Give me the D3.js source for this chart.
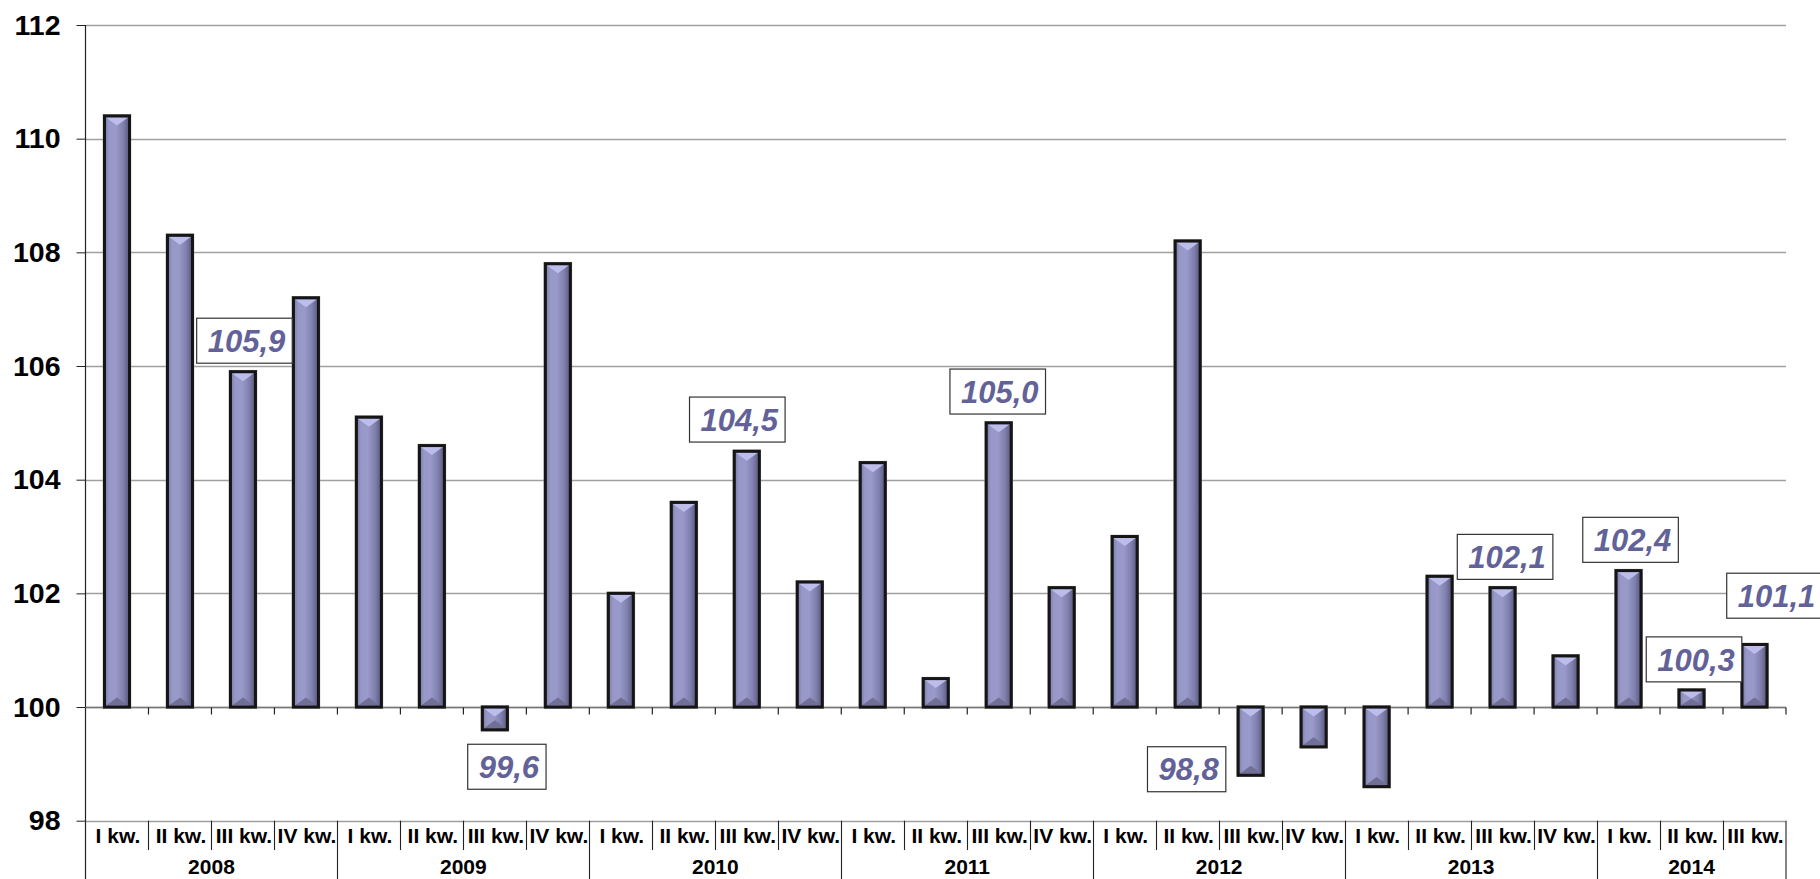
<!DOCTYPE html>
<html>
<head>
<meta charset="utf-8">
<script src="https://cdn.jsdelivr.net/npm/d3@7"></script>
<style>
  html, body { margin: 0; padding: 0; background: #fff; overflow: hidden; }
  svg { display: block; font-family: "Liberation Sans", Arial, sans-serif; }
</style>
</head>
<body>
<svg id="chart" width="1820" height="879"></svg>
<script>
// ---- data ----
const years = ["2008", "2009", "2010", "2011", "2012", "2013", "2014"];
const quartersPerYear = [4, 4, 4, 4, 4, 4, 3];
const quarterNames = ["I kw.", "II kw.", "III kw.", "IV kw."];
const values = [
  110.4, 108.3, 105.9, 107.2,
  105.1, 104.6, 99.6, 107.8,
  102.0, 103.6, 104.5, 102.2,
  104.3, 100.5, 105.0, 102.1,
  103.0, 108.2, 98.8, 99.3,
  98.6, 102.3, 102.1, 100.9,
  102.4, 100.3, 101.1
];
const yTicks = [98, 100, 102, 104, 106, 108, 110, 112];
const labelledIndex = [2, 6, 10, 14, 18, 22, 24, 25, 26];

// ---- layout (label box centre offsets from bar end, px) ----
const labelOffsets = [
  [1.5, -31], [12, 37], [-9.5, -31.7], [-1, -31.3], [-64, -6],
  [2.5, -30.8], [2, -30.8], [2.5, -30.6], [20, -48.8]
];

// build categories
const cats = [];
years.forEach((y, yi) => {
  for (let q = 0; q < quartersPerYear[yi]; q++) {
    cats.push({ year: y, yi, q: quarterNames[q], key: y + "-" + q });
  }
});
const data = cats.map((c, i) => ({ ...c, value: values[i], i }));

const svg = d3.select("#chart");
const X0 = 85.5, X1 = 1786, YTOP = 25, YBOT = 820.7, HEIGHT = 879;

const x = d3.scaleBand().domain(data.map(d => d.key)).range([X0, X1]).paddingInner(0).paddingOuter(0);
const y = d3.scaleLinear().domain([98, 112]).range([YBOT, YTOP]);
const base = 100;
const fmt = v => d3.format(".1f")(v).replace(".", ",");

// defs: gradients
const defs = svg.append("defs");
const g1 = defs.append("linearGradient").attr("id", "barGrad").attr("x1", "0").attr("x2", "1").attr("y1", "0").attr("y2", "0");
[[0, "#7878a6"], [0.18, "#9898c8"], [0.45, "#9a9aca"], [0.75, "#8080ae"], [1, "#56567a"]]
  .forEach(([o, c]) => g1.append("stop").attr("offset", o).attr("stop-color", c));

// gridlines
svg.append("g").selectAll("line").data(yTicks).join("line")
  .attr("x1", X0).attr("x2", X1)
  .attr("y1", d => Math.round(y(d)) + 0.5).attr("y2", d => Math.round(y(d)) + 0.5)
  .attr("stroke", "#a0a0a0").attr("stroke-width", 1.3);

// y axis
const yAxis = d3.axisLeft(y).tickValues(yTicks).tickSize(9).tickPadding(16).tickFormat(d3.format("d"));
const ya = svg.append("g").attr("transform", `translate(${X0},0)`).call(yAxis);
ya.select(".domain").remove();
ya.selectAll(".tick line").attr("stroke", "#222");
ya.selectAll(".tick text").attr("font-size", 28.5).attr("font-weight", "bold").attr("fill", "#000")
  .attr("font-family", "'Liberation Sans', Arial, sans-serif");
svg.append("line").attr("x1", X0).attr("x2", X0).attr("y1", YTOP).attr("y2", HEIGHT)
  .attr("stroke", "#222").attr("stroke-width", 1.2);

// baseline ticks at category boundaries (on 100 line)
const yb = Math.round(y(base)) + 0.5;
svg.append("line").attr("x1", X0).attr("x2", X1).attr("y1", yb).attr("y2", yb)
  .attr("stroke", "#777").attr("stroke-width", 1.3);
svg.append("g").selectAll("line").data(data.slice(1).concat([{ end: true }])).join("line")
  .attr("x1", (d, i) => d.end ? X1 : x(d.key)).attr("x2", (d, i) => d.end ? X1 : x(d.key))
  .attr("y1", yb).attr("y2", yb + 7).attr("stroke", "#222").attr("stroke-width", 1.2);

// bars
const bw = 25;
const bars = svg.append("g").selectAll("g").data(data).join("g");
bars.each(function (d) {
  const g = d3.select(this);
  const cx = x(d.key) + x.bandwidth() / 2;
  const yTop = Math.min(y(d.value), y(base));
  const yBottom = Math.max(y(d.value), y(base));
  const h = yBottom - yTop;
  const left = cx - bw / 2;
  g.append("rect").attr("x", left - 1).attr("y", yTop - 1).attr("width", bw + 2).attr("height", h + 2)
    .attr("fill", "none").attr("stroke", "#9a9a9a").attr("stroke-width", 1.5);
  g.append("rect").attr("x", left).attr("y", yTop).attr("width", bw).attr("height", h)
    .attr("fill", "url(#barGrad)");
  const il = left + 1.5, ir = left + bw - 1.5, it = yTop + 1.5, ib = yBottom - 1.5;
  const th = Math.min(8, (ib - it) / 2);
  g.append("path").attr("d", `M${il},${it} L${ir},${it} L${cx},${it + th} Z`).attr("fill", "#bdbdec");
  g.append("path").attr("d", `M${il},${ib} L${ir},${ib} L${cx},${ib - th} Z`).attr("fill", "#707096");
  g.append("rect").attr("x", left).attr("y", yTop).attr("width", bw).attr("height", h)
    .attr("fill", "none").attr("stroke", "#151515").attr("stroke-width", 3);
});

// value labels
const labG = svg.append("g");
labelledIndex.forEach((idx, k) => {
  const d = data[idx];
  const cx = x(d.key) + x.bandwidth() / 2 + labelOffsets[k][0];
  const cy = y(d.value) + labelOffsets[k][1];
  const g = labG.append("g");
  const rect = g.append("rect").attr("fill", "#fff").attr("stroke", "#333").attr("stroke-width", 1.2);
  const t = g.append("text").text(fmt(d.value))
    .attr("x", cx + 2).attr("y", cy).attr("dy", "0.36em").attr("text-anchor", "middle")
    .attr("font-size", 31).attr("font-weight", "bold").attr("font-style", "italic").attr("fill", "#626299");
  const w = t.node().getComputedTextLength() + 18;
  const hb = 45;
  rect.attr("x", cx - w / 2).attr("y", cy - hb / 2).attr("width", w).attr("height", hb);
});

// category table
const tab = svg.append("g");
data.forEach((d, i) => {
  if (i === 0) return;
  const xx = Math.round(x(d.key)) + 0.5;
  const yearBoundary = d.q === quarterNames[0];
  tab.append("line").attr("x1", xx).attr("x2", xx).attr("y1", YBOT).attr("y2", yearBoundary ? HEIGHT : 850)
    .attr("stroke", "#222").attr("stroke-width", 1.1);
});
tab.append("line").attr("x1", X1).attr("x2", X1).attr("y1", YBOT).attr("y2", HEIGHT)
  .attr("stroke", "#222").attr("stroke-width", 1.1);
tab.selectAll("text.q").data(data).join("text").attr("class", "q")
  .attr("x", d => x(d.key) + x.bandwidth() / 2 + 1).attr("y", 843)
  .attr("text-anchor", "middle").attr("font-size", 21).attr("font-weight", "bold").attr("fill", "#000")
  .text(d => d.q);
const yearSpans = years.map((yr, yi) => {
  const items = data.filter(d => d.yi === yi);
  return { yr, x0: x(items[0].key), x1: x(items[items.length - 1].key) + x.bandwidth() };
});
tab.selectAll("text.y").data(yearSpans).join("text").attr("class", "y")
  .attr("x", d => (d.x0 + d.x1) / 2).attr("y", 874)
  .attr("text-anchor", "middle").attr("font-size", 21).attr("font-weight", "bold").attr("fill", "#000")
  .text(d => d.yr);
</script>
</body>
</html>
